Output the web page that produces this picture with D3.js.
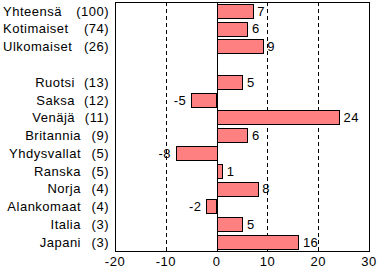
<!DOCTYPE html>
<html>
<meta charset="utf-8">
<script src="https://d3js.org/d3.v7.min.js"></script>
<style>
  body { margin: 0; background: #fff; }
  text { font-family: Arial, "Liberation Sans", sans-serif; font-size: 13px; letter-spacing: 0.5px; fill: #000; }
</style>
<body>
<div id="my_dataviz"></div>
<script>
// data
var names = ["Yhteensä", "Kotimaiset", "Ulkomaiset", "", "Ruotsi", "Saksa", "Venäjä", "Britannia",
             "Yhdysvallat", "Ranska", "Norja", "Alankomaat", "Italia", "Japani"];
var counts = [100, 74, 26, null, 13, 12, 11, 9, 5, 5, 4, 4, 3, 3];
var values = [7, 6, 9, null, 5, -5, 24, 6, -8, 1, 8, -2, 5, 16];
var ticks = [-20, -10, 0, 10, 20, 30];

var W = 377, H = 271;
var plotL = 115, plotR = 369, plotT = 2, plotB = 251;

var svg = d3.select("#my_dataviz").append("svg")
    .attr("width", W).attr("height", H);

var x = d3.scaleLinear().domain([-20, 30]).range([plotL, plotR]);
var y = d3.scaleBand().domain(d3.range(names.length)).range([plotT, plotB]).paddingInner(0.2).paddingOuter(0.1);

// dashed grid
svg.selectAll("line.grid")
  .data(ticks.filter(function(t) { return t > -20 && t < 30 && t != 0; }))
  .enter().append("line")
    .attr("x1", function(d) { return Math.round(x(d)) + 0.5; })
    .attr("x2", function(d) { return Math.round(x(d)) + 0.5; })
    .attr("y1", plotT).attr("y2", plotB)
    .attr("stroke", "#000").attr("stroke-dasharray", "4,3");

var rows = d3.range(names.length).filter(function(i) { return values[i] != null; });

// bars
svg.selectAll("rect.bar")
  .data(rows)
  .enter().append("rect")
    .attr("x", function(i) { return Math.round(x(Math.min(0, values[i]))) + 0.5; })
    .attr("y", function(i) { return Math.round(y(i)) + 0.5; })
    .attr("width", function(i) { return Math.round(Math.abs(x(values[i]) - x(0))); })
    .attr("height", Math.round(y.bandwidth()))
    .attr("fill", "#ff8080").attr("stroke", "#000");

// zero line
svg.append("line")
  .attr("x1", Math.round(x(0)) + 0.5).attr("x2", Math.round(x(0)) + 0.5)
  .attr("y1", plotT).attr("y2", plotB).attr("stroke", "#000");

// frame
svg.append("rect")
  .attr("x", plotL + 0.5).attr("y", plotT + 0.5)
  .attr("width", plotR - plotL).attr("height", plotB - plotT)
  .attr("fill", "none").attr("stroke", "#000");

// value labels
svg.selectAll("text.val")
  .data(rows)
  .enter().append("text")
    .attr("x", function(i) { return values[i] >= 0 ? x(values[i]) + 5 : x(values[i]) - 5; })
    .attr("y", function(i) { return y(i) + y.bandwidth() / 2; })
    .attr("dy", "0.36em")
    .attr("text-anchor", function(i) { return values[i] >= 0 ? "start" : "end"; })
    .text(function(i) { return values[i]; });

// category names
svg.selectAll("text.name")
  .data(rows)
  .enter().append("text")
    .attr("x", function(i) { return i < 3 ? 3 : (counts[i] >= 10 ? 75 : 81); })
    .attr("y", function(i) { return y(i) + y.bandwidth() / 2; })
    .attr("dy", "0.36em")
    .attr("text-anchor", function(i) { return i < 3 ? "start" : "end"; })
    .text(function(i) { return names[i]; });

// counts
svg.selectAll("text.count")
  .data(rows)
  .enter().append("text")
    .attr("x", 109)
    .attr("y", function(i) { return y(i) + y.bandwidth() / 2; })
    .attr("dy", "0.36em")
    .attr("text-anchor", "end")
    .text(function(i) { return "(" + counts[i] + ")"; });

// x tick labels
svg.selectAll("text.tick")
  .data(ticks)
  .enter().append("text")
    .attr("x", function(d) { return x(d); })
    .attr("y", 266)
    .attr("text-anchor", "middle")
    .text(function(d) { return d; });
</script>
</body>
</html>
